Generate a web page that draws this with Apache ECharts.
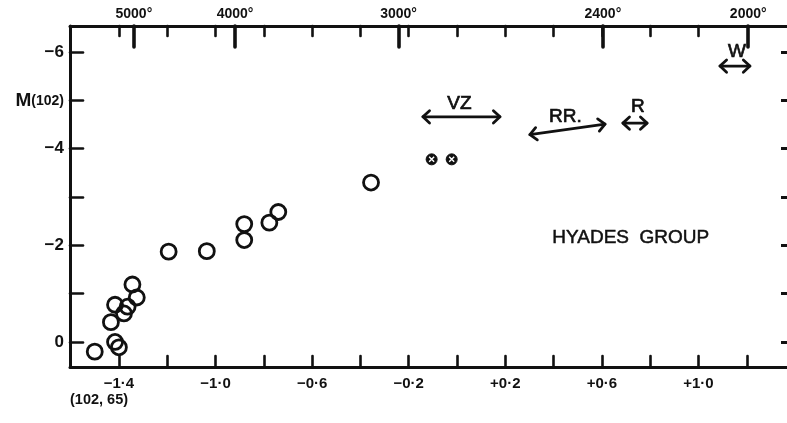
<!DOCTYPE html>
<html>
<head>
<meta charset="utf-8">
<script src="https://cdn.jsdelivr.net/npm/echarts@6/dist/echarts.min.js"></script>
<style>
  html, body { margin: 0; padding: 0; background: #fff; }
  #chart { width: 787px; height: 423px; }
</style>
</head>
<body>
<div id="chart"></div>
<script>
// Hyades group: colour index (102, 65) against absolute magnitude M(102)
const starColor = [-1.500, -1.416, -1.400, -1.433, -1.416, -1.379, -1.364, -1.344, -1.326, -1.194, -1.036, -0.881, -0.881, -0.777, -0.740, -0.356];
const starMag   = [ 0.20,   0.00,   0.11,  -0.41,  -0.77,  -0.59,  -0.73,  -1.19,  -0.92,  -1.87,  -1.88,  -2.44,  -2.11,  -2.47,  -2.69,  -3.30];

// the two crossed-circle stars
const crossedColor = [-0.105, -0.022];
const crossedMag   = [-3.78, -3.78];

// colour ranges of the comparison groups (double-headed arrows)
const rangeNames = ['VZ', 'RR.', 'R', 'W'];
const rangeStart = [[-0.141, -4.66], [0.302, -4.29], [0.687, -4.53], [1.089, -5.71]];
const rangeEnd   = [[ 0.178, -4.66], [0.613, -4.51], [0.787, -4.53], [1.213, -5.71]];

// axis ticks and labels
const colorTicks  = [-1.4, -1.2, -1.0, -0.8, -0.6, -0.4, -0.2, 0, 0.2, 0.4, 0.6, 0.8, 1.0, 1.2];
const colorLabels = [-1.4, -1.0, -0.6, -0.2, 0.2, 0.6, 1.0];
const topMinorTicks = [-1.4, -1.2, -1.0, -0.8, -0.6, -0.4, -0.2, 0, 0.2, 0.4, 0.6, 0.8, 1.0];
const tempLabels = [5000, 4000, 3000, 2400, 2000];
const tempColor  = [-1.338, -0.919, -0.242, 0.604, 1.206];
const magTicks  = [-6, -5, -4, -3, -2, -1, 0];
const magLabels = [-6, -5, -4, -2, 0];

const X_MIN = -1.6025, X_MAX = 1.3665;
const Y_MIN = -6.54,  Y_MAX = 0.518;
const INK = '#111';
const FONT = '"Liberation Sans", "DejaVu Sans", sans-serif';

function fmtColor(v) {
  const s = Math.abs(v).toFixed(1).replace('.', '·');
  return (v > 0 ? '+' : v < 0 ? '−' : '') + s;
}
function fmtTemp(v) {
  const i = tempColor.findIndex(t => Math.abs(t - v) < 1e-6);
  return i >= 0 ? tempLabels[i] + '°' : '';
}
function fmtMag(v) {
  if (v === -5) return '{m|M}{s|(102)}';
  return v < 0 ? '−' + Math.abs(v) : String(v);
}

const labelShift = { 'VZ': [-2, -13], 'RR.': [-2, -13], 'R': [3, -16], 'W': [2, -14] };

function renderRange(params, api) {
  const p1 = api.coord([api.value(0), api.value(1)]);
  const p2 = api.coord([api.value(2), api.value(3)]);
  const ang = Math.atan2(p2[1] - p1[1], p2[0] - p1[0]);
  const h = 9, spread = 0.75;
  function chevron(p, dir) {
    const a = ang + (dir > 0 ? 0 : Math.PI);
    return [
      [p[0] - h * Math.cos(a - spread), p[1] - h * Math.sin(a - spread)],
      [p[0], p[1]],
      [p[0] - h * Math.cos(a + spread), p[1] - h * Math.sin(a + spread)]
    ];
  }
  const stroke = { stroke: INK, lineWidth: 2.8, lineCap: 'round', lineJoin: 'round', fill: null };
  const name = rangeNames[params.dataIndex];
  const sh = labelShift[name] || [0, -13];
  return {
    type: 'group',
    children: [
      { type: 'line', shape: { x1: p1[0], y1: p1[1], x2: p2[0], y2: p2[1] }, style: stroke },
      { type: 'polyline', shape: { points: chevron(p2, 1) }, style: stroke },
      { type: 'polyline', shape: { points: chevron(p1, -1) }, style: stroke },
      {
        type: 'text',
        x: (p1[0] + p2[0]) / 2 + sh[0],
        y: (p1[1] + p2[1]) / 2 + sh[1],
        style: {
          text: name, fill: INK, font: '19px ' + FONT,
          stroke: INK, lineWidth: 0.7,
          align: 'center', verticalAlign: 'middle'
        }
      }
    ]
  };
}

const tickStyle = { color: INK, width: 2.6, cap: 'round' };

const option = {
  animation: false,
  backgroundColor: '#fff',
  grid: { left: 70, right: 0, top: 26, bottom: 56, containLabel: false },
  xAxis: [
    {
      type: 'value', position: 'bottom', min: X_MIN, max: X_MAX,
      splitLine: { show: false },
      axisLine: { onZero: false, lineStyle: { color: INK, width: 3 } },
      axisTick: { inside: true, length: 11, lineStyle: tickStyle, customValues: colorTicks },
      axisLabel: {
        customValues: colorLabels, formatter: fmtColor, margin: 9,
        color: INK, fontFamily: FONT, fontWeight: 'bold', fontSize: 15
      }
    },
    {
      type: 'value', position: 'top', min: X_MIN, max: X_MAX,
      splitLine: { show: false },
      axisLine: { onZero: false, lineStyle: { color: INK, width: 3 } },
      axisTick: { inside: true, length: 10, lineStyle: tickStyle, customValues: topMinorTicks },
      axisLabel: { show: false }
    },
    {
      type: 'value', position: 'top', min: X_MIN, max: X_MAX,
      splitLine: { show: false },
      axisLine: { show: false, onZero: false },
      axisTick: { inside: true, length: 21, lineStyle: { color: INK, width: 3.6, cap: 'round' }, customValues: tempColor },
      axisLabel: {
        customValues: tempColor, formatter: fmtTemp, margin: 5,
        color: INK, fontFamily: FONT, fontWeight: 'bold', fontSize: 14
      }
    }
  ],
  yAxis: [
    {
      type: 'value', position: 'left', inverse: true, min: Y_MIN, max: Y_MAX,
      splitLine: { show: false },
      axisLine: { onZero: false, lineStyle: { color: INK, width: 3 } },
      axisTick: { inside: true, length: 13, lineStyle: tickStyle, customValues: magTicks },
      axisLabel: {
        customValues: magLabels, formatter: fmtMag, margin: 6,
        color: INK, fontFamily: FONT, fontWeight: 'bold', fontSize: 17,
        rich: {
          m: { fontFamily: FONT, fontWeight: 'bold', fontSize: 19, color: INK },
          s: { fontFamily: FONT, fontWeight: 'bold', fontSize: 14, color: INK, padding: [2, 0, 0, 0] }
        }
      }
    },
    {
      type: 'value', position: 'right', inverse: true, min: Y_MIN, max: Y_MAX,
      splitLine: { show: false },
      axisLine: { show: false, onZero: false },
      axisTick: { show: true, inside: true, length: 6, lineStyle: { color: INK, width: 3 }, customValues: magTicks },
      axisLabel: { show: false }
    }
  ],
  graphic: [
    {
      type: 'text', left: 552, top: 228,
      style: { text: 'HYADES  GROUP', fill: INK, stroke: INK, lineWidth: 0.5, font: '19px ' + FONT }
    },
    {
      type: 'text', left: 70, top: 392,
      style: { text: '(102, 65)', fill: INK, font: 'bold 14.5px ' + FONT }
    }
  ],
  series: [
    {
      type: 'scatter', name: 'stars',
      data: starColor.map((c, i) => [c, starMag[i]]),
      symbol: 'circle', symbolSize: 15,
      itemStyle: { color: 'rgba(0,0,0,0)', borderColor: INK, borderWidth: 2.8, opacity: 1 },
      z: 5
    },
    {
      type: 'scatter', name: 'crossed',
      data: crossedColor.map((c, i) => [c, crossedMag[i]]),
      symbol: 'circle', symbolSize: 11,
      itemStyle: { color: INK, borderColor: INK, borderWidth: 1, opacity: 1 },
      z: 5
    },
    {
      type: 'scatter', name: 'crossed-mark',
      data: crossedColor.map((c, i) => [c, crossedMag[i]]),
      symbol: 'path://M0,0L10,10M10,0L0,10', symbolSize: 5,
      itemStyle: { color: 'none', borderColor: '#fff', borderWidth: 1.4, opacity: 1 },
      z: 6
    },
    {
      type: 'custom', name: 'ranges',
      data: rangeStart.map((s, i) => [s[0], s[1], rangeEnd[i][0], rangeEnd[i][1]]),
      encode: { x: [0, 2], y: [1, 3] },
      renderItem: renderRange,
      z: 4
    }
  ]
};

const chart = echarts.init(document.getElementById('chart'), null, { renderer: 'canvas' });
chart.setOption(option);
</script>
</body>
</html>
